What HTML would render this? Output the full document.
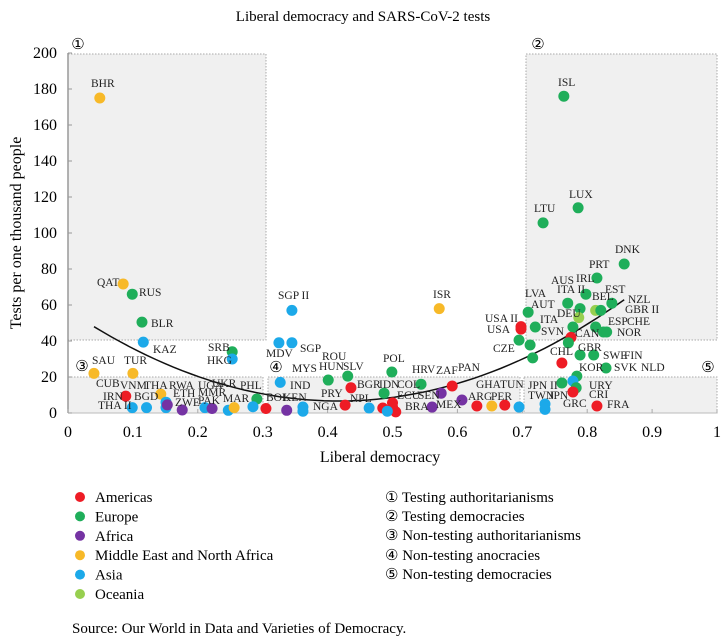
<!DOCTYPE html>
<html><head><meta charset="utf-8"><style>
html,body{margin:0;padding:0;background:#fff;}
svg{display:block;font-family:"Liberation Serif",serif;}
.lb{font-size:11.5px;fill:#222;}
</style></head><body>
<svg id="chart" width="726" height="639" viewBox="0 0 726 639">
<text x="363" y="21" text-anchor="middle" font-size="15">Liberal democracy and SARS-CoV-2 tests</text>
<g fill="#f0f0f0" stroke="#aaa" stroke-dasharray="1.5,1.5" stroke-width="1">
<rect x="68" y="54" width="198" height="286"/>
<rect x="526" y="54" width="191" height="286"/>
<rect x="68" y="377" width="195" height="36"/>
<rect x="268" y="377" width="252" height="36"/>
<rect x="524" y="377" width="193" height="36"/>
</g>
<g id="axes"></g>
<g id="curve"></g>
<g id="dots"></g>
<g font-size="15">
<text x="78" y="49" text-anchor="middle">①</text>
<text x="538" y="49" text-anchor="middle">②</text>
<text x="82" y="371" text-anchor="middle">③</text>
<text x="276" y="372" text-anchor="middle">④</text>
<text x="708" y="372" text-anchor="middle">⑤</text>
</g>
<g class="lb">
<text x="91" y="87">BHR</text><text x="97" y="286">QAT</text><text x="139" y="296">RUS</text><text x="151" y="327">BLR</text>
<text x="153" y="353">KAZ</text><text x="208" y="351">SRB</text><text x="207" y="364">HKG</text><text x="266" y="357">MDV</text>
<text x="300" y="352">SGP</text><text x="92" y="364">SAU</text><text x="124" y="364">TUR</text><text x="96" y="387">CUB</text>
<text x="120" y="389">VNM</text><text x="144" y="389">THA</text><text x="169" y="389">RWA</text><text x="198" y="389">UGA</text>
<text x="212" y="387">UKR</text><text x="240" y="389">PHL</text><text x="103" y="400">IRN</text><text x="134" y="400">BGD</text>
<text x="173" y="397">ETH</text><text x="198" y="396">MMR</text><text x="198" y="404">PAK</text><text x="223" y="402">MAR</text>
<text x="98" y="409">THA II</text><text x="175" y="406">ZWE</text><text x="266" y="401">BOL</text><text x="283" y="401">KEN</text>
<text x="292" y="372">MYS</text><text x="290" y="389">IND</text><text x="313" y="410">NGA</text><text x="278" y="299">SGP II</text>
<text x="322" y="360">ROU</text><text x="319" y="370">HUN</text><text x="343" y="370">SLV</text><text x="321" y="397">PRY</text>
<text x="350" y="402">NPL</text><text x="357" y="388">BGR</text><text x="379" y="388">IDN</text><text x="397" y="388">COL</text>
<text x="397" y="399">ECU</text><text x="418" y="399">SEN</text><text x="405" y="410">BRA</text><text x="436" y="408">MEX</text>
<text x="383" y="362">POL</text><text x="412" y="373">HRV</text><text x="436" y="374">ZAF</text><text x="458" y="371">PAN</text>
<text x="433" y="298">ISR</text><text x="468" y="400">ARG</text><text x="491" y="400">PER</text><text x="476" y="388">GHA</text>
<text x="500" y="388">TUN</text><text x="485" y="322">USA II</text><text x="487" y="333">USA</text><text x="493" y="352">CZE</text>
<text x="525" y="297">LVA</text><text x="531" y="308">AUT</text><text x="615" y="253">DNK</text><text x="589" y="268">PRT</text>
<text x="551" y="284">AUS</text><text x="576" y="282">IRL</text><text x="557" y="293">ITA II</text><text x="605" y="293">EST</text>
<text x="592" y="300">BEL</text><text x="628" y="303">NZL</text><text x="625" y="313">GBR II</text><text x="557" y="317">DEU</text>
<text x="540" y="323">ITA</text><text x="608" y="325">ESP</text><text x="627" y="325">CHE</text><text x="541" y="335">SVN</text>
<text x="575" y="337">CAN</text><text x="617" y="336">NOR</text><text x="550" y="355">CHL</text><text x="578" y="351">GBR</text>
<text x="603" y="359">SWE</text><text x="624" y="359">FIN</text><text x="579" y="371">KOR</text><text x="614" y="371">SVK</text>
<text x="641" y="371">NLD</text><text x="528" y="389">JPN II</text><text x="589" y="389">URY</text><text x="528" y="399">TWN</text>
<text x="549" y="399">JPN</text><text x="589" y="398">CRI</text><text x="563" y="407">GRC</text><text x="607" y="408">FRA</text>
<text x="558" y="86">ISL</text><text x="569" y="198">LUX</text><text x="534" y="212">LTU</text>
</g>
<text x="380" y="462" text-anchor="middle" font-size="16">Liberal democracy</text>
<text transform="translate(21,233) rotate(-90)" text-anchor="middle" font-size="16">Tests per one thousand people</text>
<g id="legend" font-size="15"></g>
<g font-size="15">
<text x="385" y="502">① Testing authoritarianisms</text>
<text x="385" y="521">② Testing democracies</text>
<text x="385" y="540">③ Non-testing authoritarianisms</text>
<text x="385" y="560">④ Non-testing anocracies</text>
<text x="385" y="579">⑤ Non-testing democracies</text>
</g>
<text x="72" y="633" font-size="15">Source: Our World in Data and Varieties of Democracy.</text>
</svg>
<script>
const xs=[0.049,0.085,0.099,0.114,0.116,0.253,0.253,0.325,0.345,0.345,0.04,0.10,0.327,0.089,0.143,0.291,0.099,0.121,0.151,0.151,0.153,0.176,0.211,0.222,0.247,0.256,0.285,0.305,0.337,0.362,0.362,0.401,0.431,0.499,0.544,0.575,0.592,0.436,0.487,0.427,0.464,0.485,0.50,0.50,0.505,0.492,0.561,0.607,0.63,0.653,0.673,0.695,0.572,0.698,0.698,0.695,0.709,0.712,0.716,0.72,0.857,0.815,0.798,0.838,0.770,0.789,0.787,0.813,0.821,0.778,0.813,0.825,0.83,0.775,0.771,0.761,0.789,0.81,0.829,0.784,0.778,0.761,0.783,0.778,0.815,0.735,0.735,0.764,0.786,0.732];
const ys=[175,71.7,66,50.5,39.4,34,30,39,39,57,22,22,17,9.4,10.5,7.8,3,3,3,6,4.5,1.7,3,2.5,1.5,3,3.5,2.5,1.5,3.3,1,18.3,20.5,22.8,16,11,15,14,11,4.4,2.8,2.8,5.6,3.3,0.6,1,3.3,7.2,3.9,3.9,4.4,3.3,58,46.6,48,40.5,56,37.8,30.6,47.8,82.8,75,66,61,61,58,53,57,57,47.8,47.8,45,45,42,39,27.8,32.2,32.2,25,20.5,17.8,16.7,14,11.7,3.9,5,2,176,114,105.6];
const regions=["M","M","E","E","S","E","S","S","S","S","M","M","S","A","M","E","S","S","S","S","F","F","S","F","S","M","S","A","F","S","S","E","E","E","E","F","A","A","E","A","S","A","A","A","A","S","F","F","A","M","A","S","M","A","A","E","E","E","E","E","E","E","E","E","E","E","O","O","E","E","E","E","E","A","E","A","E","E","E","E","S","E","E","A","A","S","S","E","E","E"];
const regionNames=["Americas","Europe","Africa","Middle East and North Africa","Asia","Oceania"];
const regionKeys=["A","E","F","M","S","O"];
const regionColors={A:"#ee1c25",E:"#1fae5a",F:"#7533a3",M:"#f7b928",S:"#1ca9e9",O:"#97cf4f"};
const yTicks=[0,20,40,60,80,100,120,140,160,180,200];
const xTicks=[0,0.1,0.2,0.3,0.4,0.5,0.6,0.7,0.8,0.9,1];
const trendCoef=[290.8,-242.5,57.2];
const trendRange=[0.04,0.857];
const NS="http://www.w3.org/2000/svg";
const X=v=>68+649*v, Y=v=>413-1.8*v;
function mk(t,a,p){const e=document.createElementNS(NS,t);for(const k in a)e.setAttribute(k,a[k]);p.appendChild(e);return e;}
const ax=document.getElementById('axes');
const yl=mk('line',{x1:68,y1:Y(200),x2:68,y2:Y(0),stroke:'#999','stroke-width':1.5},ax);


const xl=mk('line',{x1:68,y1:Y(0),x2:717,y2:Y(0),stroke:'#bbb','stroke-width':1},ax);


yTicks.forEach(v=>{
 const t=mk('text',{x:57,y:Y(v)+5,'text-anchor':'end','font-size':16},ax);t.textContent=v;
 
 
 mk('line',{x1:68,y1:Y(v),x2:72,y2:Y(v),stroke:'#999'},ax);
});
xTicks.forEach(v=>{
 const t=mk('text',{x:X(v),y:437,'text-anchor':'middle','font-size':16},ax);t.textContent=v;
 
 
 mk('line',{x1:X(v),y1:Y(0),x2:X(v),y2:Y(0)-4,stroke:'#aaa'},ax);
});
let d='';
for(let i=0;i<=60;i++){const x=trendRange[0]+(trendRange[1]-trendRange[0])*i/60;const y=trendCoef[0]*x*x+trendCoef[1]*x+trendCoef[2];d+=(i?'L':'M')+X(x).toFixed(1)+','+Y(y).toFixed(1);}
const cp=mk('path',{d:d,fill:'none',stroke:'#111','stroke-width':1.5},document.getElementById('curve'));


const dg=document.getElementById('dots');
xs.forEach((x,i)=>{
 const c=mk('circle',{cx:X(x),cy:Y(ys[i]),r:5.5,fill:regionColors[regions[i]]},dg);
 
 
});
const lg=document.getElementById('legend');
regionNames.forEach((n,i)=>{
 const yy=497+19.4*i;
 const c=mk('circle',{cx:80,cy:yy,r:5,fill:regionColors[regionKeys[i]]},lg);
 
 
 const t=mk('text',{x:95,y:yy+5},lg);t.textContent=n;
 
 
});
</script>
</body></html>
